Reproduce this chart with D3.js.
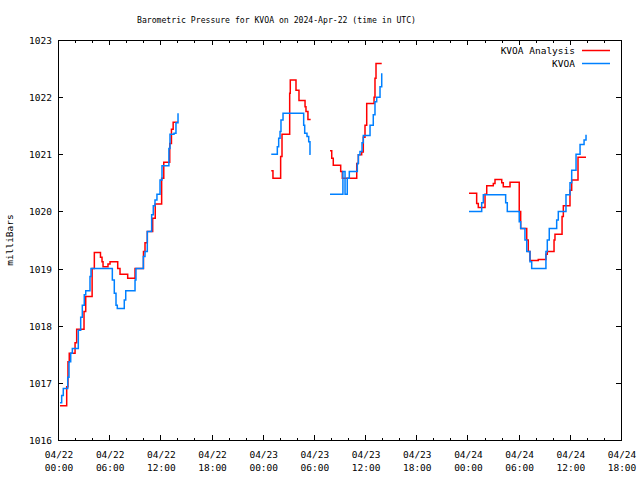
<!DOCTYPE html>
<html><head><meta charset="utf-8">
<script src="https://cdn.jsdelivr.net/npm/d3@7"></script>
<style>
body{margin:0;background:#fff;}
text{font-family:"DejaVu Sans Mono",monospace;font-size:9.5px;fill:#000;}
</style></head>
<body><svg id="c" width="640" height="480"></svg>
<script>
// Hours since 2024-04-22 00:00 UTC; null marks a gap in the record
const analysisHours = [0.23,1.02,1.17,1.32,2.0,2.19,3.05,3.25,4.0,4.26,4.98,5.16,5.28,5.86,6.1,7.0,7.27,8.17,9.03,10.02,10.2,10.47,11.1,11.4,11.7,12.15,12.4,13.1,13.3,13.5,14.07,
  null,
  25.0,25.2,26.1,26.26,27.16,27.23,27.9,28.25,28.96,29.07,29.3,29.62,
  null,
  31.89,32.09,32.27,33.14,33.33,35.02,35.21,35.6,35.79,35.99,36.19,37.05,37.16,37.28,37.95,
  null,
  48.18,49.08,49.27,50.06,50.26,51.03,51.23,52.02,52.2,52.99,54.07,54.24,54.95,55.13,55.33,56.3,57.2,57.36,58.15,58.26,59.09,59.24,60.02,60.22,60.96,61.9];
const analysisMb = [1016.6,1016.93,1017.37,1017.52,1017.7,1017.94,1018.25,1018.51,1019.0,1019.28,1019.2,1019.12,1019.03,1019.08,1019.12,1019.0,1018.9,1018.83,1019.0,1019.3,1019.45,1019.65,1019.88,1020.13,1020.13,1020.58,1020.86,1021.19,1021.44,1021.56,1021.56,
  null,
  1020.71,1020.58,1020.96,1021.35,1022.07,1022.3,1022.12,1021.94,1021.83,1021.75,1021.61,1021.61,
  null,
  1021.06,1020.93,1020.81,1020.7,1020.58,1020.84,1020.99,1021.04,1021.3,1021.51,1021.89,1022.0,1022.33,1022.59,1022.59,
  null,
  1020.32,1020.14,1020.07,1020.3,1020.45,1020.49,1020.56,1020.5,1020.43,1020.51,1020.0,1019.7,1019.5,1019.3,1019.14,1019.16,1019.25,1019.3,1019.5,1019.6,1019.91,1020.1,1020.37,1020.55,1020.95,1020.95];

const obsHours = [0.23,0.43,0.62,1.14,1.29,1.49,1.68,2.38,2.66,2.85,3.08,3.25,3.75,3.87,6.37,6.6,6.8,6.95,7.77,7.94,9.03,9.14,10.0,10.2,10.47,10.98,11.17,11.37,11.6,11.96,12.19,13.0,13.13,13.6,13.83,14.07,
  null,
  25.0,25.71,25.87,26.03,26.14,26.38,28.8,28.92,29.19,29.39,29.54,29.62,
  null,
  31.89,33.4,33.65,33.91,34.15,35.09,35.21,35.4,35.64,35.79,36.58,36.96,37.16,37.36,37.75,37.95,
  null,
  48.18,49.67,49.86,52.48,52.67,54.07,54.24,54.74,54.95,55.33,55.53,57.2,57.36,57.59,58.46,58.65,59.55,60.02,60.22,60.73,61.2,61.67,61.9];
const obsMb = [1016.65,1016.78,1016.9,1017.1,1017.37,1017.52,1017.6,1017.92,1018.15,1018.36,1018.54,1018.61,1018.86,1019.0,1018.8,1018.57,1018.36,1018.3,1018.45,1018.61,1018.8,1019.0,1019.21,1019.3,1019.65,1019.94,1020.1,1020.2,1020.3,1020.55,1020.8,1021.1,1021.35,1021.37,1021.55,1021.72,
  null,
  1021.0,1021.13,1021.28,1021.4,1021.6,1021.72,1021.51,1021.37,1021.31,1021.22,1021.0,1021.0,
  null,
  1020.3,1020.7,1020.3,1020.58,1020.7,1020.84,1020.99,1021.05,1021.2,1021.33,1021.51,1021.69,1021.92,1022.0,1022.18,1022.42,
  null,
  1020.0,1020.15,1020.29,1020.15,1020.0,1019.82,1019.7,1019.5,1019.3,1019.12,1019.0,1019.3,1019.5,1019.7,1019.85,1020.0,1020.29,1020.5,1020.72,1021.0,1021.17,1021.25,1021.34];

const seriesNames = ["KVOA Analysis","KVOA"];
const seriesColors = ["#ff0000","#0080ff"];
const yTicks = [1016,1017,1018,1019,1020,1021,1022,1023];
const titleText = "Barometric Pressure for KVOA on 2024-Apr-22 (time in UTC)";
const yLabel = "milliBars";

const t0 = Date.UTC(2024,3,22,0,0);
const toDate = h => new Date(t0 + h*3600e3);
const L=58,R=621,T=40,B=440;
const svg = d3.select("#c");
const x = d3.scaleUtc().domain([toDate(0), toDate(66)]).range([L,R]);
const y = d3.scaleLinear().domain([1016,1023]).range([B,T]);

// Title
svg.append("text").attr("x",137).attr("y",23).attr("textLength",279).attr("lengthAdjust","spacingAndGlyphs").text(titleText);
// Y label
svg.append("text").attr("transform","translate(13,240) rotate(-90)").attr("text-anchor","middle").text(yLabel);

const g = svg.append("g").attr("shape-rendering","crispEdges");
const majors = d3.utcHour.every(6).range(toDate(0), toDate(66.01));
const minors = d3.utcHour.every(2).range(toDate(0), toDate(66.01));
// x ticks bottom & top
minors.forEach(d=>{
  const maj = d.getUTCHours()%6===0;
  const len = maj?5:2.5;
  g.append("line").attr("x1",Math.round(x(d))+0.5).attr("x2",Math.round(x(d))+0.5).attr("y1",B).attr("y2",B-len).attr("stroke","#000");
  g.append("line").attr("x1",Math.round(x(d))+0.5).attr("x2",Math.round(x(d))+0.5).attr("y1",T).attr("y2",T+len).attr("stroke","#000");
});
majors.forEach(d=>{
  const fmt1 = d3.utcFormat("%m/%d")(d), fmt2 = d3.utcFormat("%H:%M")(d);
  const t = svg.append("text").attr("text-anchor","middle").attr("x",x(d)+1);
  t.append("tspan").attr("x",x(d)+1).attr("y",458).text(fmt1);
  t.append("tspan").attr("x",x(d)+1).attr("y",471).text(fmt2);
});
// y ticks left & right
yTicks.forEach(v=>{
  const yy = Math.round(y(v))+0.5;
  g.append("line").attr("x1",L).attr("x2",L+5).attr("y1",yy).attr("y2",yy).attr("stroke","#000");
  g.append("line").attr("x1",R).attr("x2",R-5).attr("y1",yy).attr("y2",yy).attr("stroke","#000");
  svg.append("text").attr("x",52).attr("y",y(v)+4).attr("text-anchor","end").text(v);
});
// frame
g.append("rect").attr("x",L+0.5).attr("y",T+0.5).attr("width",R-L).attr("height",B-T).attr("fill","none").attr("stroke","#000");

// lines
const mk = (hs,vs)=>hs.map((h,i)=>({h:h,v:vs[i]}));
const line = d3.line().defined(d=>d.h!==null&&d.v!==null).x(d=>x(toDate(d.h))).y(d=>y(d.v)).curve(d3.curveStepAfter);
const lg = svg.append("g").attr("fill","none").attr("stroke-width",1.5);
lg.append("path").datum(mk(analysisHours,analysisMb)).attr("d",line).attr("stroke",seriesColors[0]);
lg.append("path").datum(mk(obsHours,obsMb)).attr("d",line).attr("stroke",seriesColors[1]);

// legend
seriesNames.forEach((n,i)=>{
  const yy = 51 + i*13;
  svg.append("text").attr("x",575).attr("y",yy+3).attr("text-anchor","end").text(n);
  svg.append("line").attr("x1",582).attr("x2",610).attr("y1",yy-0.5).attr("y2",yy-0.5).attr("stroke",seriesColors[i]).attr("stroke-width",1.5);
});
</script></body></html>
